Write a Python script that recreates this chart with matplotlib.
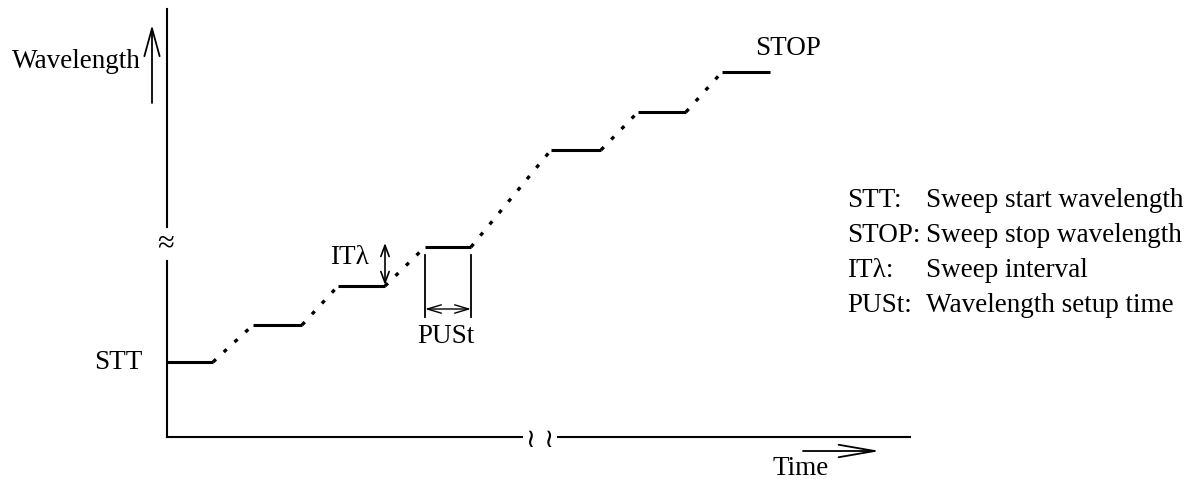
import matplotlib.pyplot as plt

plt.rcParams['font.family'] = ['Liberation Serif', 'DejaVu Serif']

# step diagram, in picture units (x = time, y = wavelength, y grows downward)
step_start = [167, 253, 338, 425, 551, 638, 722]
step_end = [213, 302, 385, 471, 601, 686, 770]
step_level = [363, 326, 287, 248, 151, 113, 73]

legend_keys = ["STT:", "STOP:", "IT\u03bb:", "PUSt:"]
legend_text = ["Sweep start wavelength", "Sweep stop wavelength",
               "Sweep interval", "Wavelength setup time"]

fig = plt.figure(figsize=(11.92, 4.81), dpi=100)
ax = fig.add_axes([0, 0, 1, 1])
ax.set_xlim(0, 1192)
ax.set_ylim(481, 0)
ax.axis('off')

fs = 19.5

# axes with breaks
ax.plot([167, 167], [10, 228], color='black', lw=1.5)
ax.plot([167, 167], [262, 438], color='black', lw=1.5)
ax.text(166, 244, "\u2248", fontsize=22, ha='center', va='center')
ax.plot([167, 522], [438, 438], color='black', lw=1.5)
ax.plot([558, 910], [438, 438], color='black', lw=1.5)
ax.text(540, 440, "\u2240 \u2240", fontsize=19, ha='center', va='center', family=['DejaVu Sans'])

# steps
for i in range(len(step_level)):
    ax.plot([step_start[i], step_end[i]], [step_level[i], step_level[i]],
            color='black', lw=2.2, solid_capstyle='butt')
    if i + 1 < len(step_level):
        ax.plot([step_end[i], step_start[i + 1]], [step_level[i], step_level[i + 1]],
                color='black', lw=2.4, linestyle=(0, (1.2, 3.2)))

# axis labels
ax.annotate("", xy=(152, 26), xytext=(152, 104),
            arrowprops=dict(arrowstyle='->,head_length=2.0,head_width=0.55', lw=1.3,
                            color='black', shrinkA=0, shrinkB=0))
ax.text(141, 62, "Wavelength", fontsize=fs, ha='right', va='center')
ax.annotate("", xy=(880, 452), xytext=(803, 452),
            arrowprops=dict(arrowstyle='->,head_length=2.6,head_width=0.45', lw=1.3,
                            color='black', shrinkA=0, shrinkB=0))
ax.text(801, 469, "Time", fontsize=fs, ha='center', va='center')

ax.text(143, 363, "STT", fontsize=fs, ha='right', va='center')
ax.text(755, 55, "STOP", fontsize=fs, ha='left', va='baseline')

# IT lambda
ax.annotate("", xy=(385, 244), xytext=(385, 286),
            arrowprops=dict(arrowstyle='<->,head_length=0.8,head_width=0.3', lw=1.2,
                            color='black', shrinkA=0, shrinkB=0))
ax.text(369, 258, "IT\u03bb", fontsize=fs, ha='right', va='center')

# PUSt
ax.plot([step_start[3], step_start[3]], [256, 318], color='black', lw=1.3)
ax.plot([step_end[3], step_end[3]], [256, 318], color='black', lw=1.3)
ax.annotate("", xy=(step_start[3], 310), xytext=(step_end[3], 310),
            arrowprops=dict(arrowstyle='<->,head_length=1.0,head_width=0.3', lw=1.0,
                            color='black', shrinkA=0, shrinkB=0))
ax.text(446, 337, "PUSt", fontsize=fs, ha='center', va='center')

# legend
for k, (key, txt) in enumerate(zip(legend_keys, legend_text)):
    y = 201 + 35 * k
    ax.text(847, y, key, fontsize=fs, ha='left', va='center')
    ax.text(926, y, txt, fontsize=fs, ha='left', va='center')

fig.savefig("out.png", dpi=100)
